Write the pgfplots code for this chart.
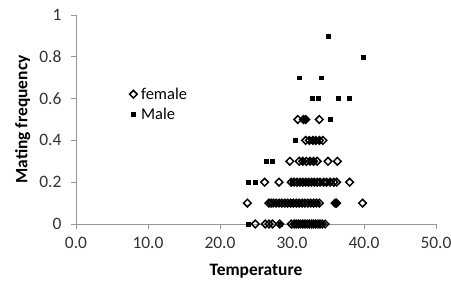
\documentclass[border=0pt]{standalone}
\usepackage{fontspec}
\setmainfont{Carlito}
\usepackage{pgfplots}
\pgfplotsset{compat=1.18}
\definecolor{axgray}{RGB}{150,150,150}
\definecolor{txtgray}{RGB}{50,50,50}
\begin{document}
\begin{tikzpicture}
\path[use as bounding box] (-76bp,-60bp) rectangle (375bp,224bp);
\begin{axis}[
  scale only axis, width=360bp, height=209bp,
  xmin=0, xmax=50, ymin=0, ymax=1,
  axis lines*=left,
  axis line style={axgray, line width=0.8pt},
  every tick/.style={axgray, line width=0.8pt},
  tick align=outside, major tick length=5bp,
  xtick={0,10,20,30,40,50},
  xticklabels={0.0,10.0,20.0,30.0,40.0,50.0},
  ytick={0,0.2,0.4,0.6,0.8,1},
  yticklabels={0,0.2,0.4,0.6,0.8,1},
  /pgf/number format/assume math mode=true,
  tick label style={font=\fontsize{17.5}{19}\selectfont, text=txtgray},
  xticklabel style={yshift=-5bp},
  yticklabel style={xshift=-6bp},
  xlabel={Temperature}, ylabel={Mating frequency},
  label style={font=\fontsize{17.5}{19}\selectfont\bfseries, text=black},
  xlabel style={at={(axis description cs:0.5,-0.225)}, anchor=center},
  ylabel style={at={(axis description cs:-0.148,0.5)}, anchor=center},
  clip=false,
  legend style={at={(axis cs:7.0,0.672)}, anchor=north west, draw=none, fill=none,
    font=\fontsize{16.5}{18}\selectfont, row sep=3bp, column sep=2bp},
  legend cell align=left,
]
\addplot[only marks, mark=square, mark size=2.7pt,
  mark options={rotate=45, draw=black, fill=none, line width=1.5pt}]
  coordinates {
  (24.9,0) (26.3,0) (26.8,0) (27.3,0) (28.3,0) (29.9,0) (30.3,0) (30.6,0) (30.9,0)
  (31.2,0) (31.5,0) (31.8,0) (32.1,0) (32.4,0) (32.7,0) (33.0,0) (33.3,0) (33.6,0)
  (33.9,0) (34.2,0) (34.6,0)
  (23.8,0.1) (26.8,0.1) (27.1,0.1) (27.4,0.1) (27.8,0.1) (28.2,0.1) (28.6,0.1) (29.0,0.1)
  (29.4,0.1) (29.8,0.1) (30.2,0.1) (30.6,0.1) (31.0,0.1) (31.4,0.1) (31.8,0.1) (32.2,0.1)
  (32.6,0.1) (33.0,0.1) (33.4,0.1) (33.8,0.1) (36.0,0.1) (36.2,0.1) (39.8,0.1)
  (26.2,0.2) (28.2,0.2) (29.9,0.2) (30.3,0.2) (30.7,0.2) (31.1,0.2) (31.5,0.2) (31.9,0.2)
  (32.3,0.2) (32.7,0.2) (33.1,0.2) (33.5,0.2) (33.9,0.2) (34.4,0.2) (34.8,0.2) (35.3,0.2)
  (35.8,0.2) (36.2,0.2) (38.0,0.2)
  (29.7,0.3) (31.0,0.3) (31.5,0.3) (32.0,0.3) (32.5,0.3) (33.0,0.3) (33.5,0.3) (35.0,0.3) (36.3,0.3)
  (31.9,0.4) (32.4,0.4) (32.9,0.4) (33.3,0.4) (33.8,0.4) (34.3,0.4)
  (30.8,0.5) (31.6,0.5) (31.9,0.5) (33.8,0.5)
  };
\addlegendentry{female}
\addplot[only marks, mark=square*, mark size=2pt, mark options={draw=black, fill=black}]
  coordinates {
  (23.9,0) (28.4,0) (30.5,0) (31.5,0) (32.5,0) (33.5,0)
  (28.0,0.1) (30.0,0.1) (31.0,0.1) (32.5,0.1) (33.5,0.1) (36.1,0.1)
  (23.9,0.2) (24.9,0.2) (30.0,0.2) (31.0,0.2) (32.0,0.2) (33.0,0.2) (34.0,0.2) (35.0,0.2)
  (26.4,0.3) (27.2,0.3) (31.5,0.3) (32.5,0.3) (33.0,0.3)
  (30.4,0.4) (32.5,0.4) (33.0,0.4) (33.5,0.4)
  (31.8,0.5) (35.3,0.5)
  (32.8,0.6) (33.6,0.6) (36.4,0.6) (37.9,0.6)
  (31.0,0.7) (34.0,0.7)
  (39.9,0.8)
  (35.0,0.9)
  };
\addlegendentry{Male}
\end{axis}
\end{tikzpicture}
\end{document}
